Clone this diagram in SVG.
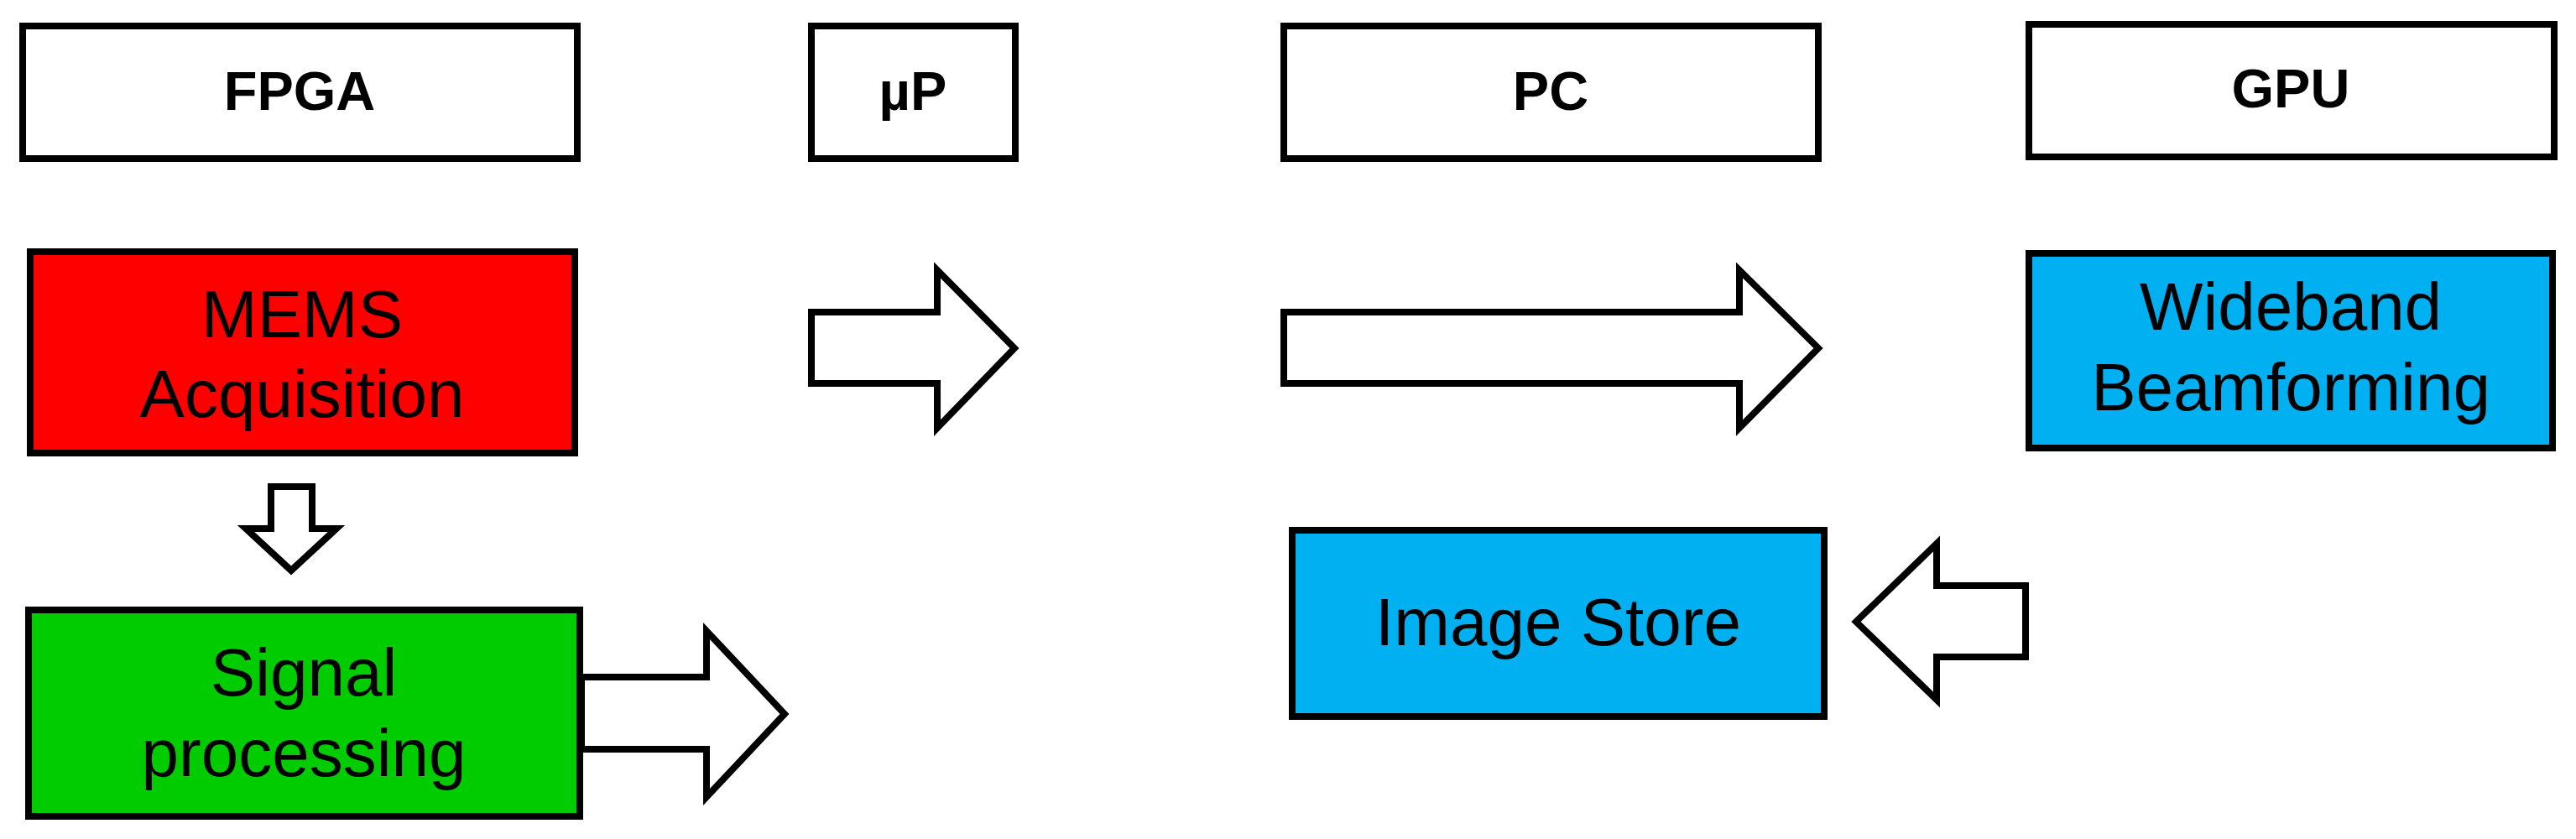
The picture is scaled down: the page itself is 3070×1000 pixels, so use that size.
<svg xmlns="http://www.w3.org/2000/svg" width="3070" height="1000" viewBox="0 0 3070 1000">
<style>
.b{stroke:#000;stroke-width:8}
.h{font-family:"Liberation Sans",Arial,sans-serif;font-weight:bold;font-size:65px;text-anchor:middle}
.t{font-family:"Liberation Sans",Arial,sans-serif;font-size:80px;text-anchor:middle}
.a{fill:#fff;stroke:#000;stroke-width:8}
</style>
<rect width="3070" height="1000" fill="#fff"/>
<g id="fpga"><rect class="b" x="27" y="31" width="661" height="158" fill="#fff"/><text class="h" x="357" y="131">FPGA</text></g>
<g id="up"><rect class="b" x="967" y="31" width="243" height="158" fill="#fff"/><text class="h" x="1088" y="131">µP</text></g>
<g id="pc"><rect class="b" x="1530" y="31" width="637" height="158" fill="#fff"/><text class="h" x="1848" y="131">PC</text></g>
<g id="gpu"><rect class="b" x="2418" y="29" width="626" height="158" fill="#fff"/><text class="h" x="2730" y="128">GPU</text></g>
<g id="mems"><rect class="b" x="36" y="300" width="649" height="240" fill="#f00"/><text class="t" x="360" y="402">MEMS</text><text class="t" x="360" y="497">Acquisition</text></g>
<g id="signal"><rect class="b" x="34" y="727" width="657" height="246" fill="#00cc00"/><text class="t" x="362" y="829">Signal</text><text class="t" x="362" y="925">processing</text></g>
<g id="wideband"><rect class="b" x="2418" y="302" width="624" height="232" fill="#00b0f0"/><text class="t" x="2730" y="393">Wideband</text><text class="t" x="2730" y="489">Beamforming</text></g>
<g id="imagestore"><rect class="b" x="1540" y="632" width="634" height="222" fill="#00b0f0"/><text class="t" x="1857" y="769">Image Store</text></g>
<g id="connectors">
<polygon class="a" points="323,580 372,580 372,630 401,630 347,680 293,630 323,630"/>
<polygon class="a" points="693,807 842,807 842,752 935,851 842,950 842,893 693,893"/>
<polygon class="a" points="967,372 1117,372 1117,322 1209,415 1117,510 1117,457 967,457"/>
<polygon class="a" points="1530,372 2073,372 2073,322 2167,415 2073,510 2073,457 1530,457"/>
<polygon class="a" points="2414,698 2308,698 2308,648 2212,741 2308,834 2308,783 2414,783"/>
</g>
</svg>
